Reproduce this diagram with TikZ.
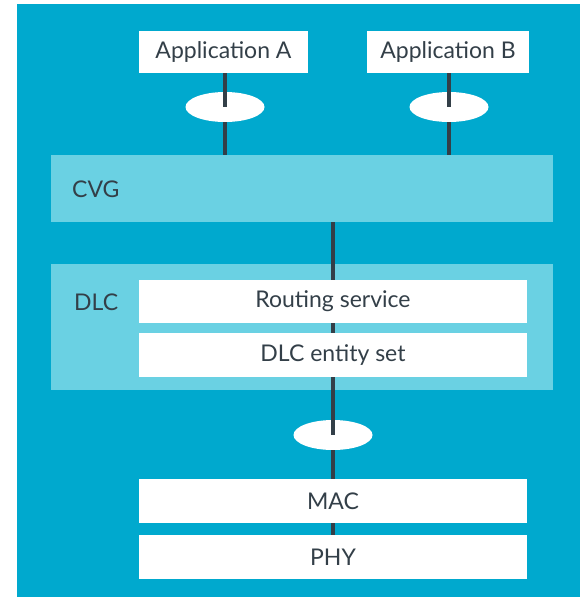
\documentclass[tikz,border=0pt]{standalone}
\usepackage{fontspec}
\setmainfont{Lato}
\usepackage{tikz}
\usetikzlibrary{positioning, shapes.geometric, calc}
\definecolor{bgblue}{HTML}{00A9CE}
\definecolor{panelblue}{HTML}{6AD1E3}
\definecolor{darkgrey}{HTML}{333F48}
\tikzstyle{panel} = [rectangle, minimum width=502pt, fill=panelblue, inner sep=0pt]
\tikzstyle{layer} = [rectangle, minimum width=388pt, minimum height=44pt, text centered, fill=white, text=darkgrey, inner sep=0pt, font=\fontsize{23}{26}\selectfont]
\tikzstyle{sap} = [ellipse, minimum width=79pt, minimum height=30pt, fill=white, inner sep=0pt]
\tikzstyle{link} = [line width=3.5pt, darkgrey]
\tikzstyle{tag} = [anchor=west, text=darkgrey, inner sep=0pt, font=\fontsize{23}{26}\selectfont]

\begin{document}
\begin{tikzpicture}[x=1pt, y=-1pt]
        \useasboundingbox (0,0) rectangle (580,597);
        \fill[bgblue] (17,4) rectangle (580,597);
        % the two blue panels
        \node (cvg) [panel, minimum height=67pt] at (302,188.5) {};
        \node (dlc) [panel, minimum height=126pt] at (302,327) {};
        \node (cvglabel) [tag] at (72,189) {CVG};
        \node (dlclabel) [tag] at (74,302) {DLC};
        % white boxes
        \node (appA) [layer, minimum width=169pt, minimum height=42pt] at (223.5,52) {Application A};
        \node (appB) [layer, minimum width=162pt, minimum height=42pt] at (448,52) {Application B};
        \node (routing) [layer, minimum height=43pt] at (333,301.5) {Routing service};
        \node (entity) [layer] at (333,355) {DLC entity set};
        \node (mac) [layer] at (333,501) {MAC};
        \node (phy) [layer] at (333,557) {PHY};
        \node (sapA) [sap] at (225,107) {};
        \node (sapB) [sap] at (449,107) {};
        \node (sapM) [sap] at (333,435) {};

        \draw [link] (appA.south -| sapA) -- (sapA.center);
        \draw [link] (sapA.south) -- (sapA |- cvg.north);
        \draw [link] (appB.south -| sapB) -- (sapB.center);
        \draw [link] (sapB.south) -- (sapB |- cvg.north);
        \draw [link] (routing.north |- cvg.south) -- (routing.north);
        \draw [link] (routing.south) -- (entity.north);
        \draw [link] (entity.south) -- (sapM.center);
        \draw [link] (sapM.south) -- (mac.north);
        \draw [link] (mac.south) -- (phy.north);
        \end{tikzpicture}
\end{document}
